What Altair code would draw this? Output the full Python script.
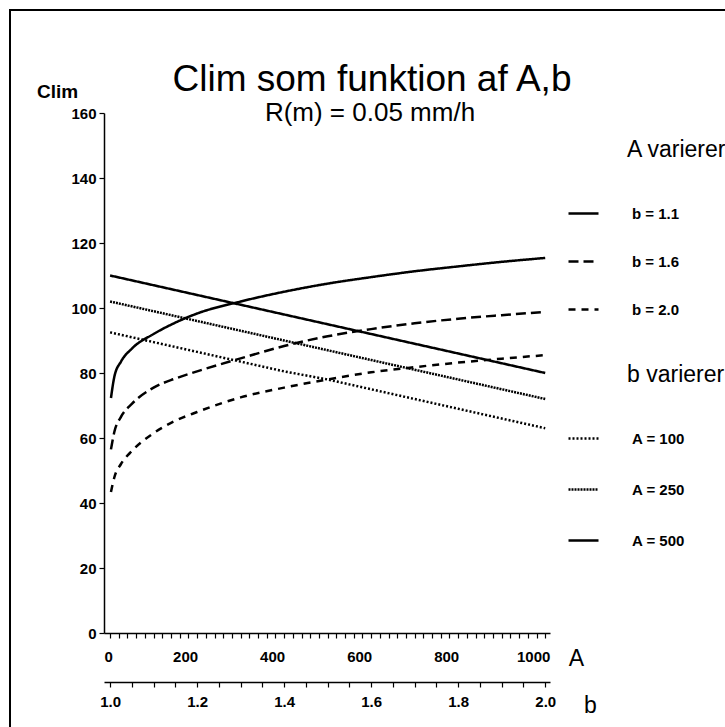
import altair as alt
import pandas as pd

# ---------------- data ----------------
A_values = [2, 10, 25, 50, 100, 150, 200, 300, 400, 500, 600, 700, 800, 900, 1000]
clim_b11 = [72.3, 79.0, 83.5, 87.5, 92.0, 95.5, 98.3, 102.0, 105.0, 107.5, 109.5, 111.3, 112.8, 114.2, 115.4]
clim_b16 = [56.5, 62.0, 66.5, 70.5, 75.5, 78.3, 80.5, 84.5, 88.3, 91.3, 93.5, 95.3, 96.7, 97.8, 98.8]
clim_b20 = [43.4, 48.0, 52.0, 56.0, 61.5, 65.3, 68.0, 72.5, 75.5, 78.0, 80.2, 81.8, 83.2, 84.4, 85.5]

b_values = [1.0, 1.1, 1.2, 1.3, 1.4, 1.5, 1.6, 1.7, 1.8, 1.9, 2.0]
clim_A100 = [92.5, 89.5, 86.5, 83.5, 80.5, 78.0, 75.0, 72.0, 69.0, 66.0, 63.0]
clim_A250 = [102.0, 99.0, 96.0, 93.0, 90.0, 87.0, 84.0, 81.0, 78.0, 75.0, 72.0]
clim_A500 = [110.0, 107.0, 104.0, 101.0, 98.0, 95.0, 92.0, 89.0, 86.0, 83.0, 80.0]

A_series = ["b = 1.1", "b = 1.6", "b = 2.0"]
b_series = ["A = 100", "A = 250", "A = 500"]

A_ticks = list(range(0, 1001, 20))
b_ticks = [round(1.0 + 0.05 * i, 2) for i in range(21)]
y_ticks = list(range(0, 161, 20))

title_text = "Clim som funktion af A,b"
subtitle_text = "R(m) = 0.05 mm/h"
legend_A_title = "A varierer"
legend_b_title = "b varierer"

# ---------------- tables ----------------
rows = []
for s, vals in zip(A_series, [clim_b11, clim_b16, clim_b20]):
    for a, v in zip(A_values, vals):
        rows.append({"A": a, "Clim": v, "serie": s})
dfA = pd.DataFrame(rows)

rows = []
for s, vals in zip(b_series, [clim_A100, clim_A250, clim_A500]):
    for b, v in zip(b_values, vals):
        rows.append({"b": b, "Clim": v, "serie": s})
dfB = pd.DataFrame(rows)

FONT = "Liberation Sans, Arimo, Arial, sans-serif"

y_enc = alt.Y(
    "Clim:Q",
    scale=alt.Scale(domain=[0, 160], nice=False, zero=False),
    axis=alt.Axis(
        values=y_ticks, title="Clim", titleAngle=0, titleX=-47, titleY=-22,
        titleAlign="center", titleBaseline="middle", titleFontSize=19,
        titleFontWeight="bold", tickSize=5, labelPadding=3, labelFontSize=15,
        labelFontWeight="bold", grid=False,
    ),
)

lines_A = alt.Chart(dfA).mark_line(color="black", strokeWidth=2.5, interpolate="monotone").encode(
    x=alt.X(
        "A:Q",
        scale=alt.Scale(domain=[-14, 1011], nice=False, zero=False),
        axis=alt.Axis(
            values=A_ticks, format="d",
            labelExpr="datum.value % 200 == 0 ? datum.label : ''",
            labelOffset={"condition": {"test": "datum.value < 100", "value": -2}, "value": -12},
            labelOverlap=False, labelFlush=False, orient="bottom",
            title="A", titleX=472, titleY=25, titleAngle=0, titleAlign="center",
            titleBaseline="middle", titleFontSize=23, titleFontWeight="normal",
            tickSize=5, labelPadding=11, labelFontSize=15, labelFontWeight="bold", grid=False,
        ),
    ),
    y=y_enc,
    strokeDash=alt.StrokeDash(
        "serie:N",
        scale=alt.Scale(domain=A_series, range=[[1, 0], [10, 5], [7, 6]]),
        legend=alt.Legend(
            title=None, orient="none", legendX=463, legendY=84, symbolType="stroke",
            symbolSize=900, symbolStrokeWidth=2.5, symbolStrokeColor="black",
            labelFontSize=15, labelFontWeight="bold", labelFont=FONT, labelColor="black",
            labelOffset=32, rowPadding=23,
        ),
    ),
)

lines_B = alt.Chart(dfB).mark_line(color="black", strokeWidth=2.5).encode(
    x=alt.X(
        "b:Q",
        scale=alt.Scale(domain=[0.986, 2.011], nice=False, zero=False),
        axis=alt.Axis(
            values=b_ticks,
            labelExpr="abs(datum.value*5 - round(datum.value*5)) < 0.001 ? format(datum.value, '.1f') : ''",
            labelOverlap=False, labelFlush=False, orient="bottom", offset=49,
            title="b", titleX=486, titleY=23, titleAngle=0, titleAlign="center",
            titleBaseline="middle", titleFontSize=23, titleFontWeight="normal",
            tickSize=5, labelPadding=7, labelFontSize=15, labelFontWeight="bold", grid=False,
        ),
    ),
    y=alt.Y("Clim:Q"),
    strokeDash=alt.StrokeDash(
        "serie:N",
        scale=alt.Scale(domain=b_series, range=[[2, 2], [2, 1], [1, 0]]),
        legend=alt.Legend(
            title=None, orient="none", legendX=463, legendY=309, symbolType="stroke",
            symbolSize=900, symbolStrokeWidth=2.5, symbolStrokeColor="black",
            labelFontSize=15, labelFontWeight="bold", labelFont=FONT, labelColor="black",
            labelOffset=32, rowPadding=26,
        ),
    ),
)


def txt(s, x, y, size, weight="normal", align="center"):
    return alt.Chart(pd.DataFrame({"t": [s]})).mark_text(
        font=FONT, fontSize=size, fontWeight=weight, align=align,
        baseline="middle", color="black",
    ).encode(text="t:N", x=alt.value(x), y=alt.value(y))


frame = alt.Chart(pd.DataFrame({"k": [0]})).mark_rect(
    filled=False, stroke="black", strokeWidth=2
).encode(x=alt.value(-94), y=alt.value(-103), x2=alt.value(700), y2=alt.value(700))

chart = alt.layer(
    frame,
    lines_A,
    lines_B,
    txt(title_text, 268, -33, 37),
    txt(subtitle_text, 266, 0, 26),
    txt(legend_A_title, 523, 37, 23, align="left"),
    txt(legend_b_title, 523, 262, 23, align="left"),
).resolve_scale(
    x="independent", strokeDash="independent"
).properties(
    width=446, height=520,
    autosize=alt.AutoSizeParams(type="none"),
    padding={"left": 104, "top": 113, "right": 175, "bottom": 94},
    background="white",
).configure_view(
    stroke=None
).configure_axis(
    domainColor="black", tickColor="black", labelColor="black", titleColor="black",
    labelFont=FONT, titleFont=FONT, domainWidth=1.5, tickWidth=1.2,
)

chart.save("out.html", embed_options={"renderer": "svg", "actions": False})
